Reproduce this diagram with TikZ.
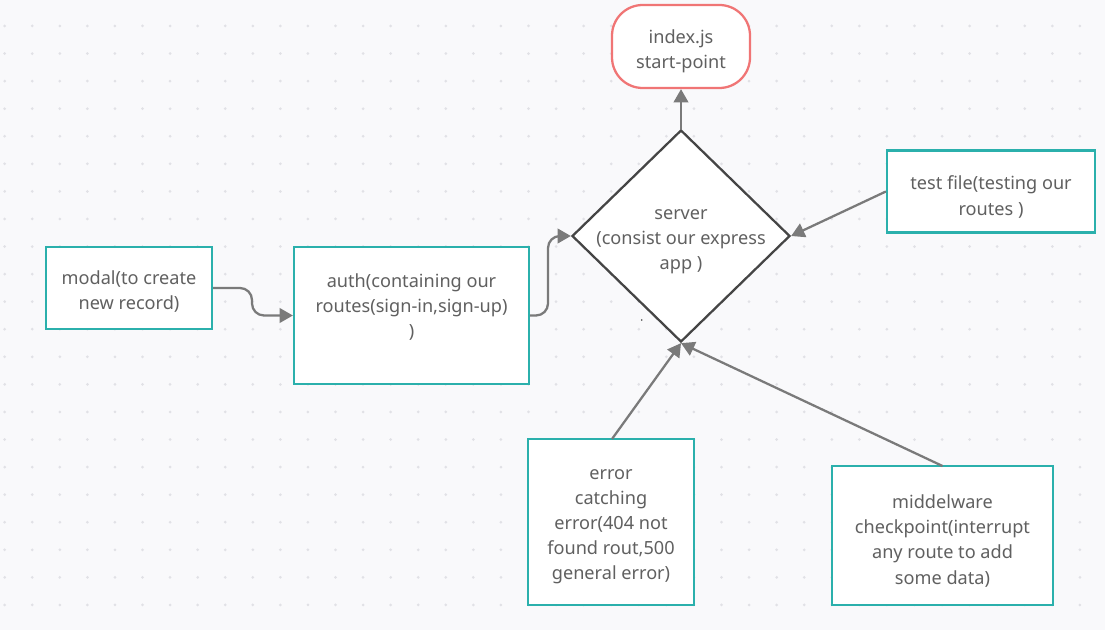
\documentclass[tikz,border=0pt]{standalone}
\usepackage{fontspec}
\setmainfont{Noto Sans}
\usetikzlibrary{shapes.geometric,arrows.meta}
\definecolor{bgc}{HTML}{F9F9FB}
\definecolor{dotc}{HTML}{E1E1E6}
\definecolor{tealc}{HTML}{2BB0AC}
\definecolor{redc}{HTML}{F07575}
\definecolor{txtc}{HTML}{606060}
\definecolor{arrc}{HTML}{7A7A7A}
\definecolor{diac}{HTML}{454545}
\tikzset{
  box/.style={draw=tealc, line width=1.7pt, fill=white, inner sep=0pt},
  lbl/.style={text=txtc, align=center, font=\fontsize{13.6}{18.8}\selectfont, inner sep=0pt},
  conn/.style={draw=arrc, line width=1.7pt, -{Triangle[length=10pt,width=11pt]}},
}
\begin{document}
\begin{tikzpicture}[x=0.75pt,y=-0.75pt]
\useasboundingbox (0,0) rectangle (1105,630);
\fill[bgc] (0,0) rectangle (1105,630);
% dot grid
\foreach \i in {0,...,40}{
  \foreach \j in {0,...,23}{
    \fill[dotc] ({4.67+27.57*\i},{-1.6+27.57*\j}) circle (1.5);
  }
}
% nodes
\node[box, minimum width=166*0.75pt, minimum height=82*0.75pt] (modal) at (129,288) {};
\node[lbl] (modalt) at (129,292) {modal(to create\\new record)};
\node[box, minimum width=235*0.75pt, minimum height=137*0.75pt] (auth) at (411.5,315.5) {};
\node[lbl] (autht) at (411.5,307) {auth(containing our\\routes(sign-in,sign-up)\\)};
\node[draw=redc, line width=1.7pt, fill=white, rounded corners=23pt, minimum width=138*0.75pt, minimum height=83*0.75pt, inner sep=0pt] (index) at (681,46.5) {};
\node[lbl] (indext) at (681,51.5) {index.js\\start-point};
\node[draw=diac, line width=1.7pt, fill=white, diamond, inner sep=0pt, minimum width=218*0.75pt, minimum height=212*0.75pt] (server) at (681,236) {};
\node[lbl] (servert) at (681,242) {server\\(consist our express\\app )};
\node[box, minimum width=208*0.75pt, minimum height=82*0.75pt] (test) at (991,191.5) {};
\node[lbl] (testt) at (991,197) {test file(testing our\\routes )};
\node[box, minimum width=166*0.75pt, minimum height=166*0.75pt] (error) at (611,522) {};
\node[lbl] (errort) at (611,527) {error\\catching\\error(404 not\\found rout,500\\general error)};
\node[box, minimum width=221*0.75pt, minimum height=139*0.75pt] (mid) at (942.5,535.5) {};
\node[lbl] (midt) at (942.5,541) {middelware\\checkpoint(interrupt\\any route to add\\some data)};
% stray dot
\fill[diac] (641.7,320) circle (0.9);
% connectors
\coordinate (m1) at (252,288);
\coordinate (m2) at (252,315.5);
\draw[conn, rounded corners=9pt] (modal.east) -- (m1) -- (m2) -- (auth.west);
\coordinate (a1) at (548,315.5);
\coordinate (a2) at (548,236);
\draw[conn, rounded corners=9pt] (auth.east) -- (a1) -- (a2) -- (server.west);
\draw[conn] (server.north) -- (index.south);
\draw[conn] (test.west) -- (server.east);
\coordinate (e1) at (612,439);
\draw[conn] (e1) -- (server.south);
\coordinate (md1) at (942.5,466);
\draw[conn] (md1) -- (server.south);
\end{tikzpicture}
\end{document}
